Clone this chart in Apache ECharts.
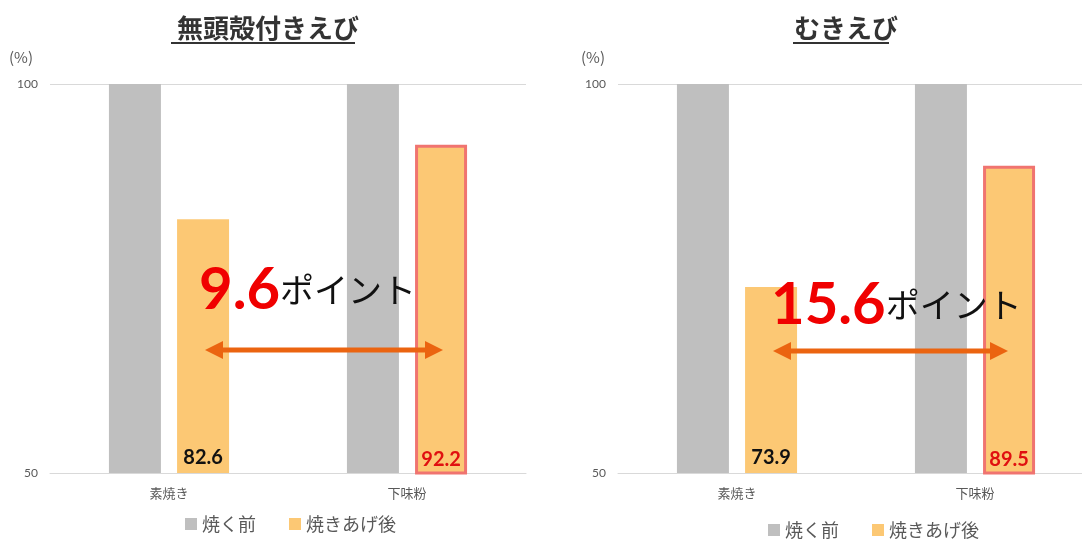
<!DOCTYPE html>
<html><head><meta charset="utf-8">
<script src="https://cdn.jsdelivr.net/npm/echarts@6/dist/echarts.min.js"></script>
<style>html,body{margin:0;padding:0;background:#fff;overflow:hidden;width:1082px;height:541px}#c{width:1100px;height:541px}</style>
</head><body><div id="c"></div>
<script>
const titles = ['無頭殻付きえび', 'むきえび'];
const categories = ['素焼き', '下味粉'];
const seriesNames = ['焼く前', '焼きあげ後'];
const beforeA = [100, 100];
const afterA = [82.6, 92.2];
const beforeB = [100, 100];
const afterB = [73.9, 89.5];
const diffLabels = ['9.6', '15.6'];
const yTicks = [50, 100];

const JP = '"Noto Sans CJK JP", "Noto Sans", sans-serif';
const NUM = 'Lato, "Open Sans", sans-serif';
const GRAY = '#BFBFBF', ORANGE = '#FCC874', BORDER = '#F07470', ARROW = '#EB6410';

const chart = echarts.init(document.getElementById('c'), null, {renderer: 'canvas'});

function afterData(vals) {
  return vals.map((v, i) => i === 1 ? {
    value: v,
    itemStyle: {borderColor: BORDER, borderWidth: 3},
    label: {color: '#E01010'}
  } : {value: v});
}
const barLabel = {show: true, position: 'insideBottom', distance: 5, fontFamily: NUM, fontWeight: 'bold', fontSize: 20, color: '#111'};

const grids = [{left: 50, width: 476, top: 84, height: 389}, {left: 618, width: 476, top: 84, height: 389}];
function xAx(i) {
  return {type: 'category', gridIndex: i, data: categories,
    axisLine: {lineStyle: {color: '#D9D9D9'}}, axisTick: {show: false},
    axisLabel: {color: '#595959', fontFamily: JP, fontSize: 13, margin: 14}};
}
function yAx(i) {
  return {type: 'value', gridIndex: i, min: yTicks[0], max: yTicks[1], interval: 50,
    axisLine: {show: false}, axisTick: {show: false},
    axisLabel: {color: '#595959', fontFamily: NUM, fontSize: 12, margin: 12},
    splitLine: {lineStyle: {color: '#D9D9D9'}}};
}
function bars(i, before, after) {
  return [
    {name: seriesNames[0], type: 'bar', xAxisIndex: i, yAxisIndex: i, data: before, barWidth: 52, barGap: '31%', itemStyle: {color: GRAY}},
    {name: seriesNames[1], type: 'bar', xAxisIndex: i, yAxisIndex: i, data: afterData(after), barWidth: 52, barGap: '31%', itemStyle: {color: ORANGE}, label: barLabel}
  ];
}

function arrow(x1, x2, y) {
  const h = 9, L = 18;
  return [
    {type: 'line', z: 100, shape: {x1: x1 + L - 2, y1: y, x2: x2 - L + 2, y2: y}, style: {stroke: ARROW, lineWidth: 5}},
    {type: 'polygon', z: 100, shape: {points: [[x1, y], [x1 + L, y - h], [x1 + L, y + h]]}, style: {fill: ARROW}},
    {type: 'polygon', z: 100, shape: {points: [[x2, y], [x2 - L, y - h], [x2 - L, y + h]]}, style: {fill: ARROW}}
  ];
}
function bigText(x, y, num) {
  return {type: 'text', z: 100, x: x, y: y, style: {
    text: '{a|' + num + '}{b|ポイント}', textVerticalAlign: 'middle',
    rich: {a: {fontFamily: NUM, fontWeight: 'bold', fontSize: 58, fill: '#F00000'},
           b: {fontFamily: JP, fontSize: 34, fill: '#111'}}
  }};
}
function titleUnder(cx, w, y) {
  return {type: 'line', z: 100, shape: {x1: cx - w / 2, y1: y, x2: cx + w / 2, y2: y}, style: {stroke: '#333', lineWidth: 2}};
}
const legendCommon = {data: seriesNames, itemWidth: 12, itemHeight: 12, itemGap: 33, icon: 'rect', padding: 0,
  textStyle: {fontFamily: JP, fontSize: 18, color: '#595959'}};

chart.setOption({
  animation: false,
  title: [
    {text: titles[0], left: 263, top: 10, textAlign: 'center', textStyle: {fontFamily: JP, fontWeight: 'bold', fontSize: 26, color: '#333'}},
    {text: titles[1], left: 841, top: 10, textAlign: 'center', textStyle: {fontFamily: JP, fontWeight: 'bold', fontSize: 26, color: '#333'}}
  ],
  legend: [
    Object.assign({left: 185, top: 515}, legendCommon),
    Object.assign({left: 768, top: 521}, legendCommon)
  ],
  grid: grids,
  xAxis: [xAx(0), xAx(1)],
  yAxis: [yAx(0), yAx(1)],
  series: [...bars(0, beforeA, afterA), ...bars(1, beforeB, afterB)],
  graphic: [
    titleUnder(263, 184, 43), titleUnder(841, 96, 43),
    {type: 'text', z: 100, x: 21, y: 57, style: {text: '(%)', fontFamily: JP, fontSize: 15, fill: '#595959', textAlign: 'center', textVerticalAlign: 'middle'}},
    {type: 'text', z: 100, x: 593, y: 57, style: {text: '(%)', fontFamily: JP, fontSize: 15, fill: '#595959', textAlign: 'center', textVerticalAlign: 'middle'}},
    bigText(199, 290, diffLabels[0]),
    bigText(771, 305, diffLabels[1]),
    ...arrow(205, 443, 350),
    ...arrow(773, 1008, 351)
  ]
});
</script></body></html>
